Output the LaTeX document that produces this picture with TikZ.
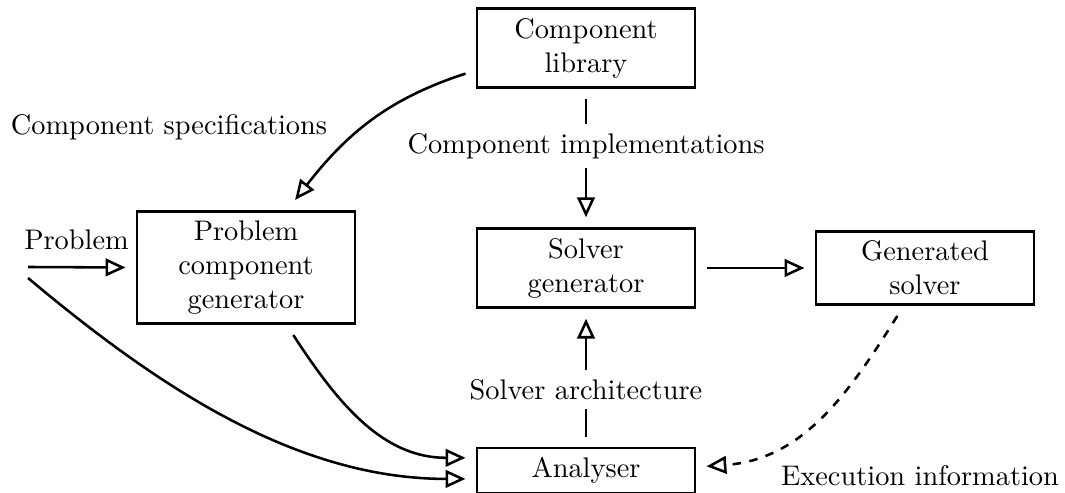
\documentclass[tikz,border=0pt]{standalone}
\usetikzlibrary{arrows.meta}
\begin{document}
\begin{tikzpicture}[x=0.3527pt,y=0.3527pt,
  box/.style={draw, line width=0.9pt, align=center, minimum width=77pt, outer sep=4pt, inner sep=3.33pt},
  arr/.style={line width=0.9pt, -{Triangle[open,length=7pt,width=6.2pt]}},
  lbl/.style={inner sep=3.33pt}]
\useasboundingbox (0,0) rectangle (1065,-493);
\node[box] (lib) at (586,-48) {Component\\library};
\node[box] (sg) at (586,-268) {Solver\\generator};
\node[box] (pcg) at (246,-267.5) {Problem\\component\\generator};
\node[box] (gs) at (925,-268) {Generated\\solver};
\node[box] (an) at (586,-470.5) {Analyser};
\coordinate (pin) at (28,-267);
\coordinate (pin2) at (28,-278);
\node[lbl] (spec) at (169,-127) {Component specifications};
\node[lbl] (exec) at (920,-476) {Execution information};
\node[lbl] (prob) at (76.5,-240) {Problem};
\draw[arr] (lib.192) to[out=198,in=52] (pcg.54);
\draw[arr] (lib.south) -- node[lbl, pos=0.4, fill=white]{Component implementations} (sg.north);
\draw[arr] (an.north) -- node[lbl, pos=0.4, fill=white]{Solver architecture} (sg.south);
\draw[arr] (sg) -- (gs);
\draw[arr] (pin) -- (pcg.west);
\draw[arr] (pin2) to[out=-40,in=180,looseness=0.9] (an.184);
\draw[arr] (pcg.305) to[out=-57,in=180] (an.174);
\draw[arr, dashed] (gs.240) to[out=238,in=4] (an.2);
\end{tikzpicture}
\end{document}
